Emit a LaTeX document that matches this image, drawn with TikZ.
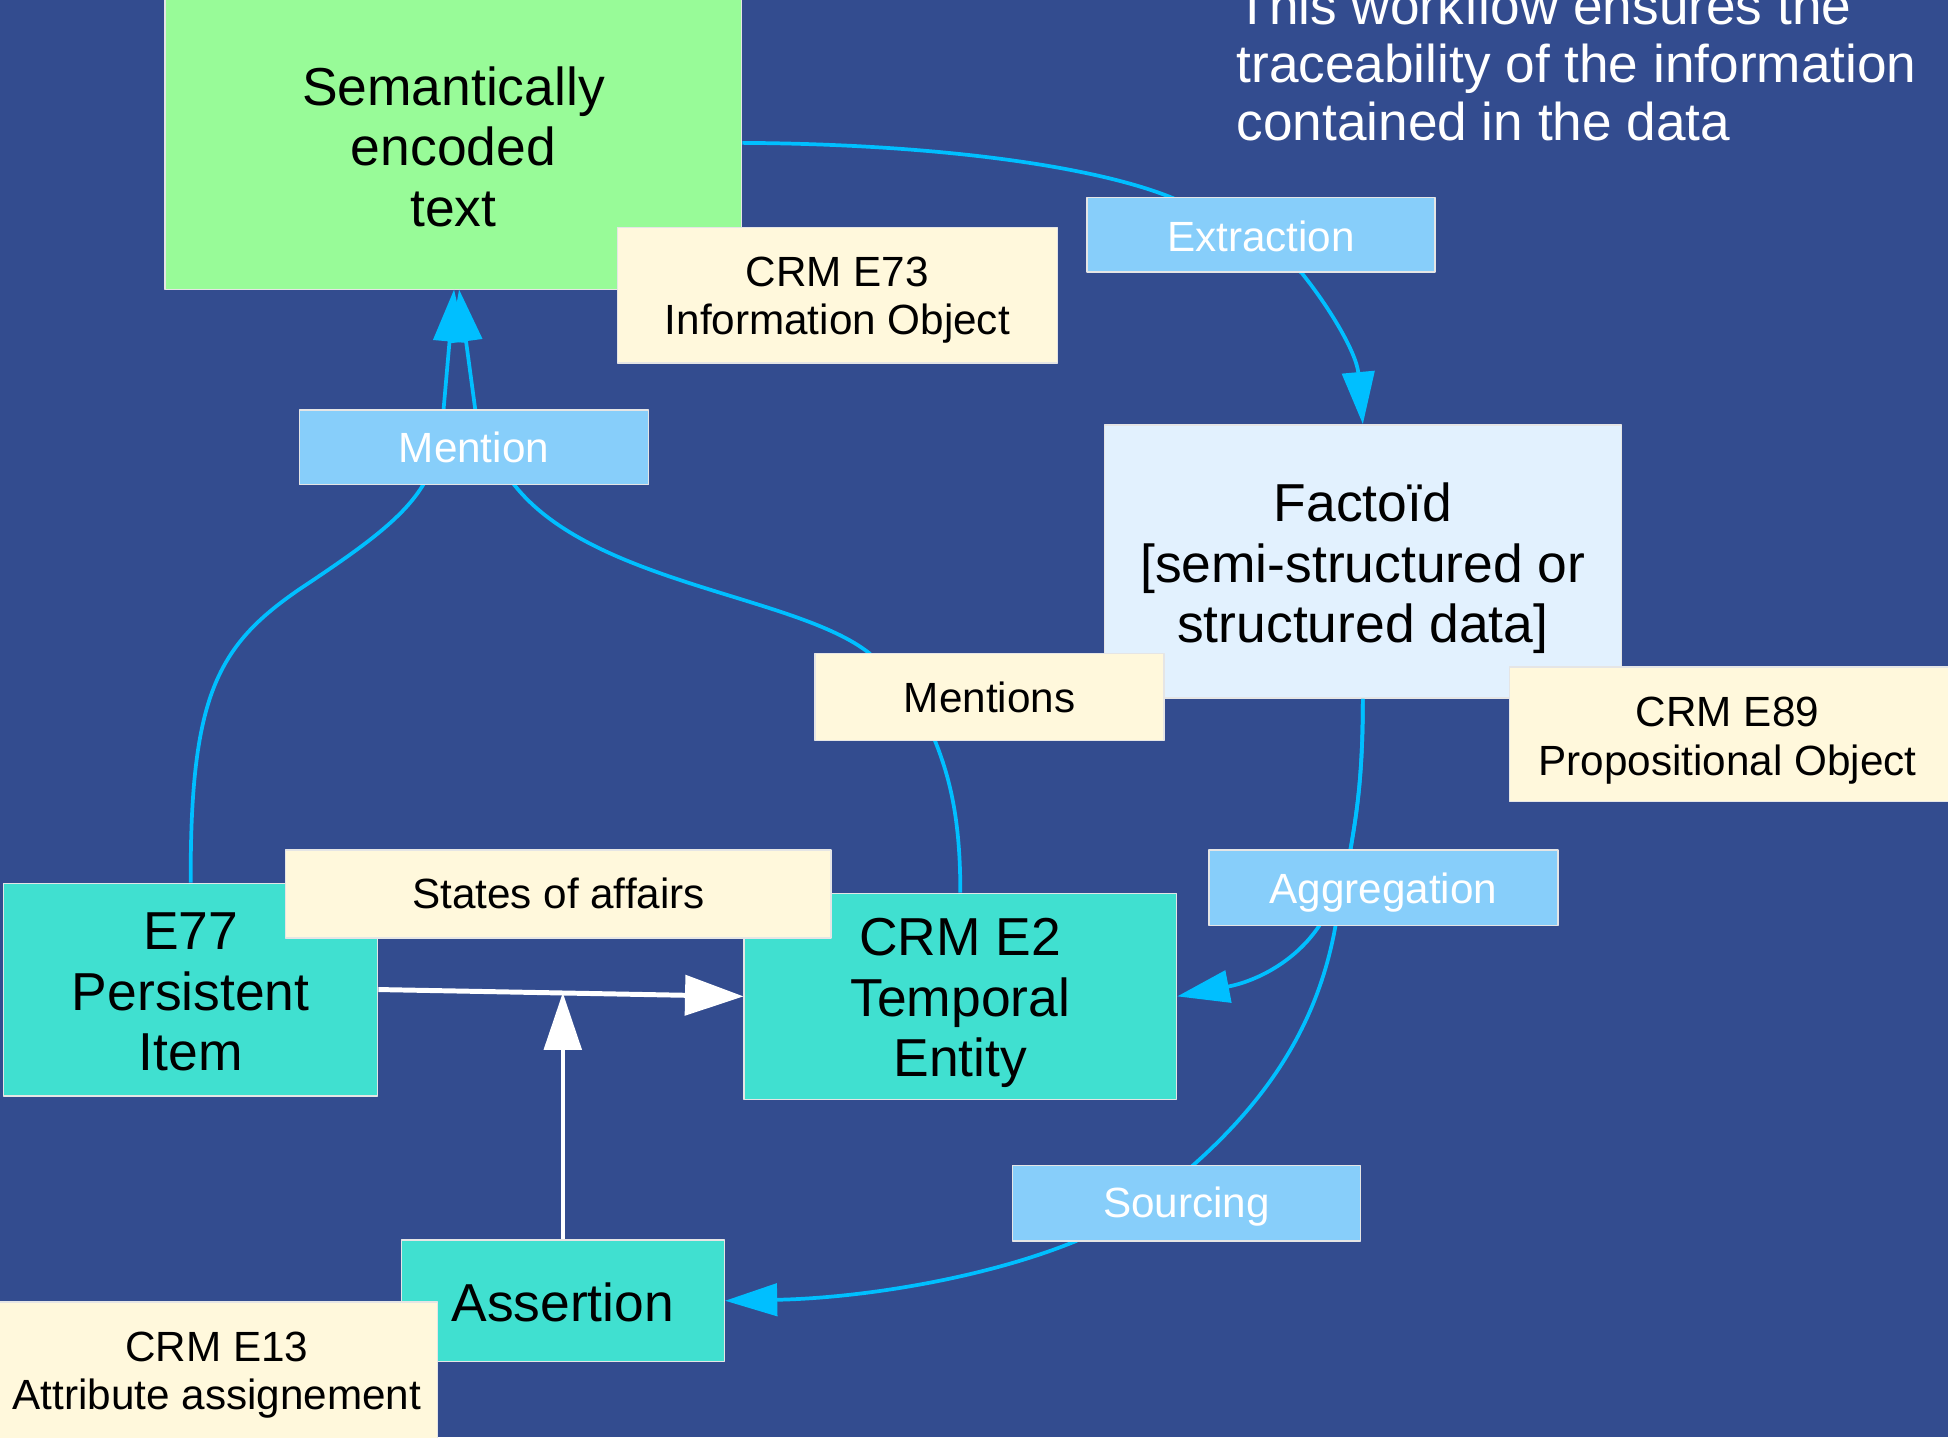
\documentclass[tikz,border=0pt]{standalone}
\usepackage{fontspec}
\setmainfont{Liberation Sans}
\usetikzlibrary{arrows.meta}
\definecolor{bgblue}{RGB}{51,76,143}
\definecolor{palegreenc}{RGB}{152,251,152}
\definecolor{cornsilkc}{RGB}{255,248,220}
\definecolor{skylabel}{RGB}{135,206,250}
\definecolor{factoidc}{RGB}{226,241,254}
\definecolor{turq}{RGB}{64,224,208}
\definecolor{deepsky}{RGB}{0,191,255}
\begin{document}
\begin{tikzpicture}[x=0.5pt,y=-0.5pt,line join=round,
  box/.style={rectangle, draw=white!80!gray, line width=0.6pt, inner sep=0pt},
  maintext/.style={inner sep=0pt, align=center, text=black, font=\fontsize{21.5}{24.3}\selectfont},
  notetext/.style={inner sep=0pt, align=center, text=black, font=\fontsize{17}{19.5}\selectfont},
  tagtext/.style={inner sep=0pt, align=center, text=white, font=\fontsize{17}{19.5}\selectfont},
  notebox/.style={box, fill=cornsilkc},
  tagbox/.style={box, fill=skylabel},
  link/.style={draw=deepsky, line width=1.5pt, -{Triangle[length=21pt,width=13pt]}},
  whitelink/.style={draw=white, line width=2pt, -{Triangle[length=23.5pt,width=16pt]}}]
\useasboundingbox (0,0) rectangle (1568,1157);
\clip (0,0) rectangle (1568,1157);
\fill[bgblue] (0,0) rectangle (1568,1157);

% main boxes
\node[box, fill=palegreenc, minimum width=232pt, minimum height=118pt,
  label={[maintext, yshift=-1.5pt]center:Semantically\\encoded\\text}] (green) at (365,115) {};
\node[box, fill=factoidc, minimum width=208pt, minimum height=110pt,
  label={[maintext, yshift=-2.7pt]center:Factoïd\\{[}semi-structured or\\structured data{]}}] (factoid) at (1097,452) {};
\node[box, fill=turq, minimum width=150.5pt, minimum height=85.5pt,
  label={[maintext, yshift=-1pt]center:E77\\Persistent\\Item}] (e77) at (153.5,796.5) {};
\node[box, fill=turq, minimum width=174pt, minimum height=83pt,
  label={[maintext, yshift=-2.7pt]center:CRM E2\\Temporal\\Entity}] (e2) at (773,802) {};
\node[box, fill=turq, minimum width=130pt, minimum height=49pt,
  label={[maintext, yshift=-0.5pt]center:Assertion}] (assertion) at (453,1047) {};

\coordinate (gl) at (365.5,233);
\coordinate (gr) at (369.5,233);
\coordinate (sa) at (453,799);

% connectors
\draw[link] (green.east) .. controls (760,116) and (890,135) .. (950,162) -- (1015,189) -- (1048,220) .. controls (1072,250) and (1092,285) .. (factoid.north);
\draw[link] (e77.north) .. controls (153,560) and (175,520) .. (240,475) .. controls (300,435) and (335,410) .. (348,375) -- (357,330) -- (gl);
\draw[link] (e2.north) .. controls (773,660) and (765,625) .. (750,590) -- (700,526) .. controls (640,478) and (470,470) .. (410,385) -- (383,333) -- (gr);
\draw[link] (factoid.south) .. controls (1097,630) and (1091,660) .. (1086,690) -- (1062,745) .. controls (1042,775) and (1010,790) .. (e2.east);
\draw[link] (factoid.south) .. controls (1097,630) and (1091,660) .. (1086,690) -- (1075,745) .. controls (1060,830) and (1015,890) .. (958,940) -- (866,999) .. controls (790,1030) and (690,1045) .. (assertion.east);
\draw[whitelink] (e77.east) -- (e2.west);
\draw[whitelink, line width=1.8pt, -{Triangle[length=23pt,width=15pt]}] (assertion.north) -- (sa);

% label boxes
\node[notebox, minimum width=177pt, minimum height=54.5pt,
  label={[notetext, yshift=-2pt]center:CRM E73\\Information Object}] (e73) at (674,237.5) {};
\node[tagbox, minimum width=140pt, minimum height=30pt,
  label={[tagtext, yshift=-0.5pt]center:Extraction}] (extraction) at (1015,189) {};
\node[notebox, minimum width=178.5pt, minimum height=54pt,
  label={[notetext, yshift=-2.5pt, xshift=-1.5pt]center:CRM E89\\Propositional Object}] (e89) at (1393.5,591) {};
\node[notebox, minimum width=140.5pt, minimum height=35pt,
  label={[notetext]center:Mentions}] (mentions) at (796.5,561) {};
\node[tagbox, minimum width=140.5pt, minimum height=30pt,
  label={[tagtext]center:Mention}] (mention) at (381.5,360) {};
\node[tagbox, minimum width=140.5pt, minimum height=30.5pt,
  label={[tagtext, yshift=-2pt]center:Aggregation}] (aggregation) at (1113.5,714.5) {};
\node[notebox, minimum width=219.5pt, minimum height=35.5pt,
  label={[notetext]center:States of affairs}] (states) at (449.5,719.5) {};
\node[tagbox, minimum width=140pt, minimum height=30.5pt,
  label={[tagtext, yshift=-1.5pt]center:Sourcing}] (sourcing) at (955,968.5) {};
\node[notebox, minimum width=177.5pt, minimum height=56pt,
  label={[notetext, yshift=-1.5pt]center:CRM E13\\Attribute assignement}] (e13) at (174.5,1104) {};

% note text
\node[anchor=north west, inner sep=0pt, align=left, text=white, font=\fontsize{21.4}{23.5}\selectfont] (note) at (995,-12) {This workflow ensures the\\traceability of the information\\contained in the data};
\end{tikzpicture}
\end{document}
